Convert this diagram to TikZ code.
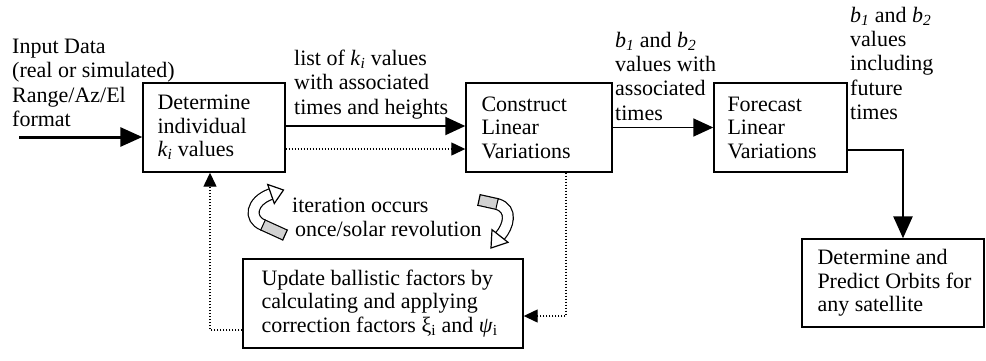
\documentclass[tikz,border=0pt]{standalone}
\usepackage{fontspec}
\setmainfont{Liberation Serif}
\usetikzlibrary{arrows.meta,calc}
\tikzset{
  box/.style={draw, line width=1.4pt, rectangle, inner sep=0pt},
  txt/.style={inner sep=0pt, align=left, font=\fontsize{22}{23.5}\selectfont},
  lbl/.style={txt, font=\fontsize{22}{24.2}\selectfont},
  solidarrow/.style={line width=2pt, -{Triangle[length=20pt,width=18pt]}},
  heavyarrow/.style={line width=3pt, -{Triangle[length=22pt,width=19pt]}},
  dotarrow/.style={line width=1.3pt, dash pattern=on 1.3pt off 1.7pt, -{Triangle[length=14pt,width=13pt]}},
  ribbonedge/.style={line width=12pt, line cap=butt, draw=black},
  ribbonface/.style={line width=9.6pt, line cap=butt, draw=white},
  ribbonback/.style={line width=9.6pt, line cap=butt, draw=gray!35},
  ribbonhead/.style={fill=white, draw=black, line width=1.2pt, line join=miter},
}
\newcommand{\ksub}{\textit{k}\textsubscript{\textit{i}}}
\newcommand{\bone}{\textit{b}\textsubscript{\textit{1}}}
\newcommand{\btwo}{\textit{b}\textsubscript{\textit{2}}}
\begin{document}
\begin{tikzpicture}[x=1pt,y=-1pt]
\useasboundingbox (0,0) rectangle (986,360);

% process boxes
\node[box, minimum width=142pt, minimum height=89pt] (det) at (214,127.5) {};
\node[txt, anchor=west] (dettxt) at ($(det.west)+(15,0)$) {Determine\\individual\\\ksub{} values};

\node[box, minimum width=146pt, minimum height=89pt] (con) at (539,127.5) {};
\node[txt, anchor=west] (contxt) at ($(con.west)+(16,0)$) {Construct\\Linear\\Variations};

\node[box, minimum width=133pt, minimum height=89pt] (fore) at (780.5,127.5) {};
\node[txt, anchor=west] (foretxt) at ($(fore.west)+(14,0)$) {Forecast\\Linear\\Variations};

\node[box, minimum width=182pt, minimum height=88pt] (orb) at (893,283) {};
\node[txt, anchor=west] (orbtxt) at ($(orb.west)+(16,0)$) {Determine and\\Predict Orbits for\\any satellite};

\node[box, minimum width=280pt, minimum height=89pt] (upd) at (383,303.5) {};
\node[txt, anchor=west] (updtxt) at ($(upd.west)+(19,0)$) {Update ballistic factors by\\calculating and applying\\correction factors ξ\textsubscript{i} and \textit{ψ}\textsubscript{i}};

% free labels
\node[lbl, anchor=north west] (inlbl) at (12,39) {Input Data\\(real or simulated)\\Range/Az/El\\format};
\node[lbl, anchor=north west] (kilbl) at (294,50) {list of \ksub{} values\\with associated\\times and heights};
\node[lbl, anchor=north west] (blbl) at (615,32) {\bone{} and \btwo\\values with\\associated\\times};
\node[lbl, anchor=north west] (futlbl) at (850,7) {\bone{} and \btwo\\values\\including\\future\\times};
\node[lbl, anchor=north west] (itlbl) at (292,198) {iteration occurs\\\hspace*{3pt}once/solar revolution};

% connectors
\coordinate (inp) at (19,137);
\draw[heavyarrow] (inp) -- (det.west |- inp);
\draw[solidarrow] ([yshift=1.5pt]det.east) -- ([yshift=1.5pt]con.west);
\draw[dotarrow] ([yshift=-21.5pt]det.east) -- ([yshift=-21.5pt]con.west);
\draw[solidarrow, line width=1.6pt] (con.east) -- (fore.west);
\draw[heavyarrow, line width=2.6pt] ([yshift=-22.5pt]fore.east) -| ([xshift=10pt]orb.north);
\draw[dotarrow] ([xshift=27pt]con.south) |- ([yshift=-12.5pt]upd.east);
\draw[dotarrow] ([yshift=-26.5pt]upd.west) -| ([xshift=-4pt]det.south);

% left twisted ribbon arrow
\draw[ribbonedge] (285,235) -- (263,225) .. controls (248,219) and (251,201) .. (271,194);
\draw[ribbonback] (285,235) -- (263,225);
\draw[ribbonface] (263,225) .. controls (248,219) and (251,201) .. (271,194);
\draw[line width=1.2pt] (282.5,240.5) -- (287.5,229.5);
\draw[line width=1pt] (260.5,230.5) -- (265.5,219.5);
\filldraw[ribbonhead] (274.3,203.5) -- (283.5,190) -- (267.7,184.5) -- cycle;

% right twisted ribbon arrow
\draw[ribbonedge] (479,200) -- (497,204) .. controls (514,209) and (508,227) .. (500,236);
\draw[ribbonback] (479,200) -- (497,204);
\draw[ribbonface] (497,204) .. controls (514,209) and (508,227) .. (500,236);
\draw[line width=1.2pt] (480.3,194.1) -- (477.7,205.9);
\draw[line width=1pt] (498.3,198.1) -- (495.7,209.9);
\filldraw[ribbonhead] (508,242.3) -- (491,248) -- (492,229.7) -- cycle;
\end{tikzpicture}
\end{document}
